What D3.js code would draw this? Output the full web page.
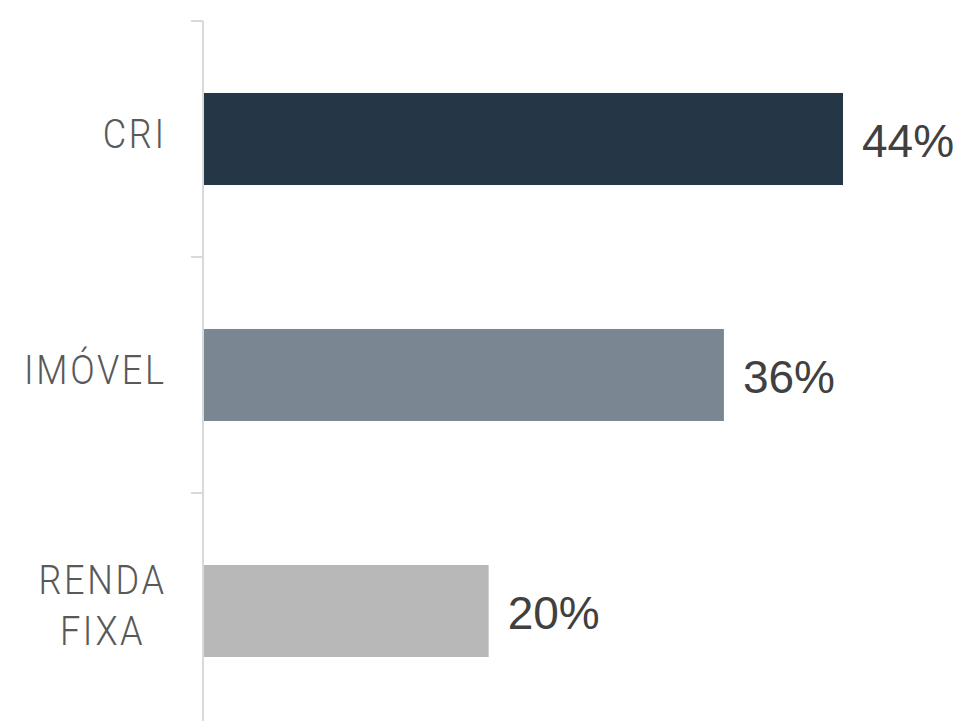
<!DOCTYPE html>
<html>
<head>
<meta charset="utf-8">
<script src="https://cdn.jsdelivr.net/npm/d3@7"></script>
<style>
  body { margin: 0; background: #ffffff; }
</style>
</head>
<body>
<div id="chart"></div>
<script>
// data
const categories = [["CRI"], ["IMÓVEL"], ["RENDA", "FIXA"]];
const values = [44.0, 35.8, 19.6];
const valueLabels = ["44%", "36%", "20%"];
const colors = ["#253746", "#7a8792", "#b8b8b8"];

let width = 968;
let height = 721;

let svg = d3.select('#chart')
    .append('svg')
    .attr('width', width)
    .attr('height', height)
    .style('background', '#ffffff');

const keys = categories.map(c => c.join(' '));

// band scale, ticks fall on the band edges
let yScale = d3.scaleBand()
    .domain(keys)
    .range([21, 729])
    .paddingInner(0.61)
    .paddingOuter(0.305);

let xScale = d3.scaleLinear()
    .domain([0, 44])
    .range([204, 843]);

const step = yScale.step();
const axisX = 203;

// axis line
svg.append('line')
    .attr('x1', axisX)
    .attr('x2', axisX)
    .attr('y1', yScale.range()[0])
    .attr('y2', yScale.range()[1])
    .attr('stroke', '#d9d9d9')
    .attr('stroke-width', 2);

// tick marks between categories
const edges = keys.map(k => yScale(k) + yScale.bandwidth() / 2 - step / 2);
edges.push(edges[edges.length - 1] + step);
svg.selectAll('.tick')
    .data(edges)
    .enter()
    .append('line')
    .attr('x1', axisX - 12)
    .attr('x2', axisX)
    .attr('y1', d => d)
    .attr('y2', d => d)
    .attr('stroke', '#d9d9d9')
    .attr('stroke-width', 2);

// bars
svg.selectAll('.bar')
    .data(values)
    .enter()
    .append('rect')
    .attr('x', xScale(0))
    .attr('y', (d, i) => yScale(keys[i]))
    .attr('width', d => xScale(d) - xScale(0))
    .attr('height', yScale.bandwidth())
    .attr('fill', (d, i) => colors[i]);

// value labels
svg.selectAll('.val')
    .data(values)
    .enter()
    .append('text')
    .attr('x', d => xScale(d) + 19)
    .attr('y', (d, i) => yScale(keys[i]) + yScale.bandwidth() / 2 + 18)
    .attr('font-family', '"Liberation Sans", Arial, sans-serif')
    .attr('font-size', 46)
    .attr('fill', '#404040')
    .text((d, i) => valueLabels[i]);

// category labels: narrow letters, spaced out, lines centred on each other
const sx = 0.88;
const ls = 3;
const lh = 51;
categories.forEach((lines, i) => {
    const cy = yScale(keys[i]) + yScale.bandwidth() / 2;
    const first = cy + 9 - (lines.length - 1) * lh / 2;
    const g = svg.append('g');
    const texts = lines.map((line, j) => g.append('text')
        .attr('x', ls / 2)
        .attr('y', first + j * lh)
        .attr('text-anchor', 'middle')
        .attr('font-family', 'Roboto, sans-serif')
        .attr('font-weight', 300)
        .attr('font-size', 41)
        .attr('letter-spacing', ls)
        .attr('fill', '#595959')
        .text(line));
    // last letter also gets spacing, take it off
    const w = d3.max(texts, t => t.node().getComputedTextLength()) - ls;
    g.attr('transform', `translate(${164 - w * sx / 2}, 0) scale(${sx}, 1)`);
});
</script>
</body>
</html>
